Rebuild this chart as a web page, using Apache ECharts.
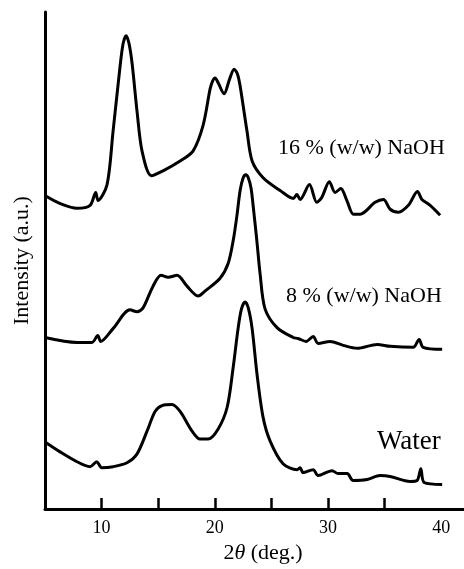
<!DOCTYPE html>
<html>
<head>
<meta charset="utf-8">
<script src="https://cdn.jsdelivr.net/npm/echarts@6/dist/echarts.min.js"></script>
<style>
html,body{margin:0;padding:0;background:#fff;}
#chart{width:464px;height:569px;}
</style>
</head>
<body>
<div id="chart"></div>
<script>
// 2θ positions (deg.) and offset intensities (a.u.)
const naoh16X = [5.0, 6.3, 7.83, 8.98, 9.48, 9.68, 10.48, 11.01, 11.63, 11.9, 12.16, 12.42, 12.69, 13.13, 13.57, 14.4, 15.42, 16.93, 18.07, 18.96, 19.58, 19.8, 20.02, 20.3, 20.81, 21.3, 21.70, 22.0, 22.23, 22.84, 23.29, 24.26, 25.76, 26.93, 27.24, 27.53, 28.35, 29.0, 29.44, 30.11, 30.62, 31.12, 31.65, 32.24, 32.83, 34.15, 34.89, 35.48, 36.21, 37.09, 37.89, 38.28, 39.01, 39.89];
const naoh16Y = [318, 310, 305, 308, 321, 313, 329, 383, 449, 472, 480, 472, 452, 403, 363, 338, 343, 353, 363, 389, 426, 434, 437, 432, 421, 436, 446, 441, 429, 383, 353, 336, 323, 315, 319, 314, 329, 311, 316, 332, 321, 325, 313, 299, 299, 311, 314, 304, 301, 308, 322, 314, 308, 298];

const naoh8X = [5.0, 7.83, 9.15, 9.66, 9.92, 11.01, 12.51, 13.13, 13.66, 14.54, 15.25, 15.87, 16.66, 17.54, 18.52, 19.13, 20.46, 21.17, 21.63, 21.93, 22.23, 22.5, 22.73, 22.95, 23.2, 23.45, 23.70, 23.99, 24.43, 25.49, 26.91, 27.35, 28.06, 28.68, 29.12, 30.18, 31.33, 32.56, 34.33, 35.48, 37.51, 38.04, 38.39, 40.07];
const naoh8Y = [174, 169, 169, 176, 170, 183, 202, 200, 204, 226, 237, 235, 237, 226, 216, 221, 234, 249, 273, 296, 323, 336, 339, 336, 325, 300, 273, 239, 203, 184, 174, 173, 170, 175, 168, 170, 166, 163, 167, 165, 164, 172, 164, 162];

const waterX = [5.0, 6.33, 7.83, 8.98, 9.57, 10.01, 11.01, 12.24, 13.13, 14.01, 14.72, 15.34, 16.22, 16.93, 17.99, 18.69, 19.40, 20.28, 21.08, 21.61, 22.05, 22.35, 22.67, 22.95, 23.29, 23.73, 24.26, 24.88, 26.02, 27.26, 27.53, 27.79, 28.68, 29.12, 30.35, 30.88, 31.68, 32.21, 33.45, 34.59, 35.48, 37.24, 37.86, 38.19, 38.48, 40.07];
const waterY = [68, 58, 48, 43, 48, 42, 43, 47, 56, 79, 99, 105, 106, 99, 79, 71, 71, 81, 103, 143, 183, 203, 210, 204, 183, 136, 93, 69, 46, 40, 42, 37, 40, 34, 39, 36, 36, 29, 30, 34, 33, 28, 29, 41, 27, 25];

const seriesNames = ['16 % (w/w) NaOH', '8 % (w/w) NaOH', 'Water'];
const tickValues = [10, 15, 20, 25, 30, 35];
const labelValues = [10, 20, 30, 40];

const zip = (xs, ys) => xs.map((x, i) => [x, ys[i]]);
const FONT = '"Liberation Serif", "Times New Roman", serif';

const chart = echarts.init(document.getElementById('chart'), null, {renderer: 'canvas'});
const lineSeries = (name, data) => ({
  name: name,
  type: 'line',
  data: data,
  smooth: 0.3,
  symbol: 'none',
  lineStyle: {color: '#000', width: 3},
  silent: true
});

chart.setOption({
  animation: false,
  backgroundColor: '#fff',
  grid: {left: 45, right: 0, top: 12, bottom: 53, containLabel: false},
  xAxis: {
    type: 'value',
    min: 5,
    max: 42,
    name: '2{i|θ} (deg.)',
    nameLocation: 'middle',
    nameGap: 29,
    nameTextStyle: {
      fontFamily: FONT, fontSize: 22, color: '#000', padding: [0, 0, 0, 17],
      rich: {i: {fontFamily: FONT, fontSize: 22, fontStyle: 'italic', color: '#000'}}
    },
    axisLine: {show: true, onZero: false, lineStyle: {color: '#000', width: 3}},
    axisTick: {show: true, inside: true, length: 11, customValues: tickValues, lineStyle: {color: '#000', width: 2.5}},
    axisLabel: {show: true, customValues: labelValues, margin: 10, fontFamily: FONT, fontSize: 18, color: '#000'},
    splitLine: {show: false}
  },
  yAxis: {
    type: 'value',
    min: 0,
    max: 504,
    name: 'Intensity (a.u.)',
    nameLocation: 'middle',
    nameRotate: 90,
    nameGap: 12,
    nameTextStyle: {fontFamily: FONT, fontSize: 22, color: '#000'},
    axisLine: {show: true, onZero: false, lineStyle: {color: '#000', width: 3}},
    axisTick: {show: false},
    axisLabel: {show: false},
    splitLine: {show: false}
  },
  graphic: [
    {type: 'text', left: 278, top: 137, style: {text: seriesNames[0], fontFamily: FONT, fontSize: 22, fill: '#000'}},
    {type: 'text', left: 286, top: 285, style: {text: seriesNames[1], fontFamily: FONT, fontSize: 22, fill: '#000'}},
    {type: 'text', left: 377, top: 428, style: {text: seriesNames[2], fontFamily: FONT, fontSize: 27, fill: '#000'}}
  ],
  series: [
    lineSeries(seriesNames[0], zip(naoh16X, naoh16Y)),
    lineSeries(seriesNames[1], zip(naoh8X, naoh8Y)),
    lineSeries(seriesNames[2], zip(waterX, waterY))
  ]
});
</script>
</body>
</html>
